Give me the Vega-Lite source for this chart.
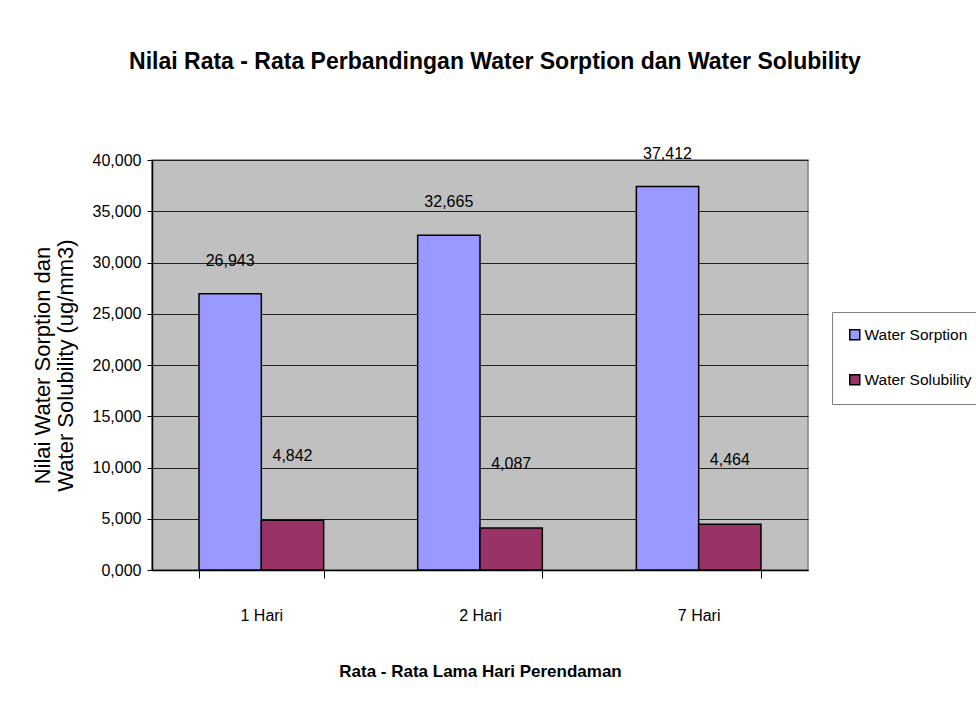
{
  "$schema": "https://vega.github.io/schema/vega-lite/v6.json",
  "width": 656,
  "height": 410,
  "autosize": "none",
  "padding": {"left": 152, "top": 160, "right": 168, "bottom": 155},
  "background": "white",
  "title": {
    "text": "Nilai Rata - Rata Perbandingan Water Sorption dan Water Solubility",
    "font": "Liberation Sans",
    "fontSize": 23,
    "fontWeight": "bold",
    "color": "black",
    "anchor": "middle",
    "baseline": "alphabetic",
    "offset": 54,
    "dx": 15
  },
  "data": {
    "values": [
      {"Hari": "1 Hari", "Seri": "Water Sorption", "Nilai": 26.943},
      {"Hari": "1 Hari", "Seri": "Water Solubility", "Nilai": 4.842},
      {"Hari": "2 Hari", "Seri": "Water Sorption", "Nilai": 32.665},
      {"Hari": "2 Hari", "Seri": "Water Solubility", "Nilai": 4.087},
      {"Hari": "7 Hari", "Seri": "Water Sorption", "Nilai": 37.412},
      {"Hari": "7 Hari", "Seri": "Water Solubility", "Nilai": 4.464}
    ]
  },
  "encoding": {
    "x": {
      "field": "Hari",
      "type": "nominal",
      "sort": ["1 Hari", "2 Hari", "7 Hari"],
      "scale": {"paddingInner": 0.43, "paddingOuter": 0.215},
      "axis": {
        "title": "Rata - Rata Lama Hari Perendaman",
        "titleFontSize": 17,
        "titleFontWeight": "bold",
        "titlePadding": 40,
        "labelFontSize": 16,
        "labelAngle": 0,
        "labelPadding": 29,
        "tickBand": "extent",
        "tickSize": 8,
        "grid": false
      }
    },
    "xOffset": {
      "field": "Seri",
      "type": "nominal",
      "sort": ["Water Sorption", "Water Solubility"],
      "scale": {"paddingInner": 0, "paddingOuter": 0}
    },
    "y": {
      "field": "Nilai",
      "type": "quantitative",
      "scale": {"domain": [0, 40], "nice": false},
      "axis": {
        "title": ["Nilai Water Sorption dan", "Water Solubility (ug/mm3)"],
        "titleFontSize": 22,
        "titleFontWeight": "normal",
        "titleAngle": 270,
        "titleX": -110,
        "titleY": 205,
        "titleAlign": "center",
        "titleBaseline": "middle",
        "titleLineHeight": 23,
        "values": [0, 5, 10, 15, 20, 25, 30, 35, 40],
        "format": ".3f",
        "labelFontSize": 16,
        "labelPadding": 6,
        "tickSize": 5,
        "grid": true,
        "gridColor": "#222222",
        "gridOpacity": 1,
        "gridWidth": 1
      }
    }
  },
  "layer": [
    {
      "mark": {"type": "bar", "stroke": "black", "strokeWidth": 1.5},
      "encoding": {
        "color": {
          "field": "Seri",
          "type": "nominal",
          "sort": ["Water Sorption", "Water Solubility"],
          "scale": {"domain": ["Water Sorption", "Water Solubility"], "range": ["#9999FF", "#993366"]},
          "legend": {
            "title": null,
            "orient": "none",
            "legendX": 680,
            "legendY": 152,
            "padding": 15,
            "strokeColor": "#808080",
            "fillColor": "white",
            "labelFontSize": 15.5,
            "labelLimit": 300,
            "symbolType": "square",
            "symbolSize": 100,
            "symbolStrokeColor": "black",
            "symbolStrokeWidth": 1.5,
            "rowPadding": 27,
            "labelOffset": 2
          }
        }
      }
    },
    {
      "transform": [{"filter": "datum.Seri === 'Water Sorption'"}],
      "mark": {"type": "text", "dy": -33, "baseline": "middle", "fontSize": 16},
      "encoding": {"text": {"field": "Nilai", "type": "quantitative", "format": ".3f"}}
    },
    {
      "transform": [{"filter": "datum.Seri === 'Water Solubility'"}],
      "mark": {"type": "text", "dy": -64, "baseline": "middle", "fontSize": 16},
      "encoding": {"text": {"field": "Nilai", "type": "quantitative", "format": ".3f"}}
    }
  ],
  "config": {
    "locale": {"number": {"decimal": ",", "thousands": ".", "grouping": [3], "currency": ["", ""]}},
    "font": "Liberation Sans",
    "view": {"fill": "#C0C0C0", "stroke": "#808080", "strokeWidth": 1.5},
    "axis": {
      "labelFont": "Liberation Sans",
      "titleFont": "Liberation Sans",
      "labelColor": "black",
      "titleColor": "black",
      "domainColor": "black",
      "tickColor": "black",
      "domainWidth": 1.5,
      "tickWidth": 1
    },
    "legend": {"labelFont": "Liberation Sans", "labelColor": "black"},
    "text": {"font": "Liberation Sans", "color": "black"}
  }
}
